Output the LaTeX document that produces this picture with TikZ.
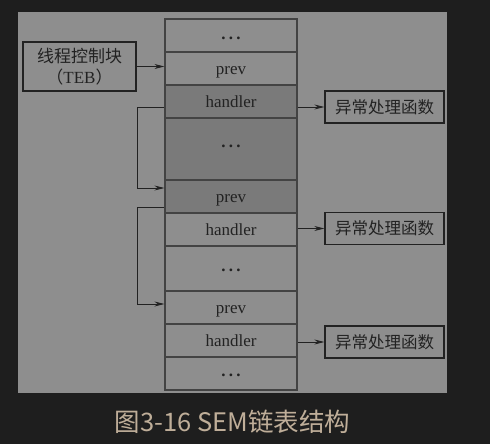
\documentclass[tikz,border=0pt]{standalone}
\usepackage{fontspec}
\setmainfont{Liberation Serif}
\newfontfamily\cjk{Noto Sans CJK SC}
\usetikzlibrary{arrows.meta}
\definecolor{bgdark}{HTML}{1E1E1E}
\definecolor{panel}{HTML}{8E8E8E}
\definecolor{rowdark}{HTML}{7A7A7A}
\definecolor{ink}{HTML}{222222}
\definecolor{capcol}{HTML}{BFAE99}
\tikzset{
  cell/.style={draw=ink!85, line width=1.1pt, fill=panel, inner sep=0pt,
    minimum width=132pt, text=ink, text height=12pt, text depth=0pt,
    font=\fontsize{17}{20}\selectfont},
  darkcell/.style={cell, fill=rowdark},
  fnbox/.style={draw=ink, line width=1.3pt, inner sep=0pt, minimum width=119pt,
    minimum height=32pt, text=ink, font=\cjk\fontsize{16.5}{20}\selectfont},
  conn/.style={draw=ink, line width=0.8pt},
  arr/.style={conn, -{Stealth[length=10pt,width=5pt]}}
}
\newcommand{\mydots}[1]{\smash{\raisebox{#1}{\bfseries .\hspace{3.2pt}.\hspace{3.2pt}.}}}
\begin{document}
\begin{tikzpicture}[x=1pt,y=-1pt]
\fill[bgdark] (0,0) rectangle (490,444);
\useasboundingbox (0,0) rectangle (490,444);
\fill[panel] (18,12) rectangle (447,393);
% column rows
\node[cell, minimum height=33pt, text height=0pt] (r1) at (231,35.5) {\mydots{-3.7pt}};
\node[cell, minimum height=33pt] (r2) at (231,68.5) {prev};
\node[darkcell, minimum height=33pt] (r3) at (231,101.5) {handler};
\node[darkcell, minimum height=62pt, text height=0pt] (r4) at (231,149) {\mydots{1.8pt}};
\node[darkcell, minimum height=33pt] (r5) at (231,196.5) {prev};
\node[cell, minimum height=33pt] (r6) at (231,229.5) {handler};
\node[cell, minimum height=45pt, text height=0pt] (r7) at (231,268.5) {\mydots{-2.7pt}};
\node[cell, minimum height=33pt] (r8) at (231,307.5) {prev};
\node[cell, minimum height=33pt] (r9) at (231,340.5) {handler};
\node[cell, minimum height=33pt, text height=0pt] (r10) at (231,373.5) {\mydots{-2.7pt}};
% TEB box
\node[draw=ink, line width=1.3pt, inner sep=0pt, minimum width=113pt, minimum height=49pt,
  text=ink, align=center, font=\fontsize{17}{22}\selectfont] (teb) at (79.5,66.5)
  {{\cjk 线程控制块}\\[-0.5pt]{\cjk （}TEB{\cjk ）}};
% handler function boxes
\node[fnbox] (h1) at (384.5,107) {异常处理函数};
\node[fnbox] (h2) at (384.5,228.5) {异常处理函数};
\node[fnbox] (h3) at (384.5,342) {异常处理函数};
% connectors
\draw[arr] (teb.east) -- (teb.east -| r2.west);
\draw[arr] (h1.west -| r3.east) -- (h1.west);
\draw[arr] (h2.west -| r6.east) -- (h2.west);
\draw[arr] (h3.west -| r9.east) -- (h3.west);
\coordinate (a1) at (137,107);
\coordinate (b1) at (137,188);
\coordinate (a2) at (137,207);
\coordinate (b2) at (137,304);
\draw[arr] (a1 -| r3.west) -- (a1) -- (b1) -- (b1 -| r5.west);
\draw[arr] (a2 -| r5.west) -- (a2) -- (b2) -- (b2 -| r8.west);
% caption
\node[text=capcol, font=\cjk\fontsize{25.5}{30}\selectfont, inner sep=0pt] (cap) at (232.5,422) {图3-16 SEM链表结构};
\end{tikzpicture}
\end{document}
